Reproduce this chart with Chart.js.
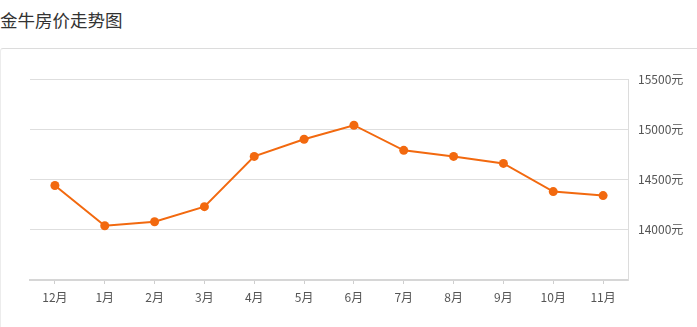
<!DOCTYPE html>
<html>
<head>
<meta charset="utf-8">
<script src="https://cdn.jsdelivr.net/npm/chart.js@4"></script>
<style>
html,body{margin:0;padding:0;background:#fff;width:697px;height:327px;overflow:hidden;}
#title{position:absolute;left:0;top:8px;font-family:"Noto Sans CJK SC",sans-serif;font-size:17.5px;color:#333;line-height:24px;}
#card{position:absolute;left:0;top:48px;width:720px;height:300px;border-top:1px solid #dcdcdc;border-left:1px solid #ececec;border-top-left-radius:3px;box-sizing:border-box;}
#wrap{position:absolute;left:0;top:0;width:697px;height:327px;}
</style>
</head>
<body>
<div id="title">金牛房价走势图</div>
<div id="card"></div>
<div id="wrap"><canvas id="c" width="697" height="327"></canvas></div>
<script>
const months = ['12月','1月','2月','3月','4月','5月','6月','7月','8月','9月','10月','11月'];
const prices = [14440, 14040, 14080, 14230, 14730, 14900, 15040, 14790, 14730, 14660, 14380, 14340];
const yMin = 13500;
const yMax = 15500;
const yStep = 500;
const unit = '元';

const font = {family: '"Noto Sans CJK SC", sans-serif', size: 12};
new Chart(document.getElementById('c'), {
  type: 'line',
  data: {
    labels: months,
    datasets: [{
      data: prices,
      borderColor: '#f2690f',
      backgroundColor: '#f2690f',
      borderWidth: 2,
      pointRadius: 4.5,
      pointBackgroundColor: '#f2690f',
      pointBorderWidth: 0,
      tension: 0,
      fill: false
    }]
  },
  options: {
    responsive: false,
    animation: false,
    devicePixelRatio: 1,
    layout: {padding: {left: 30, top: 79, right: 0, bottom: 0}},
    plugins: {legend: {display: false}, tooltip: {enabled: false}, title: {display: false}},
    scales: {
      x: {
        offset: true,
        afterFit: s => { s.height = 47; },
        grid: {display: true, drawOnChartArea: false, drawTicks: true, tickLength: 4, color: '#cfcfcf', offset: false},
        border: {display: true, color: '#d6d6d6', width: 2},
        ticks: {font: font, color: '#555', padding: 6, maxRotation: 0, autoSkip: false}
      },
      y: {
        position: 'right',
        min: yMin,
        max: yMax,
        afterFit: s => { s.width = 69; },
        grid: {color: '#dedede', lineWidth: 1, drawTicks: false},
        border: {display: true, color: '#dcdcdc', width: 1},
        ticks: {
          stepSize: yStep,
          font: font,
          color: '#555',
          padding: 10,
          callback: v => v === yMin ? '' : v + unit
        }
      }
    }
  }
});
</script>
</body>
</html>
